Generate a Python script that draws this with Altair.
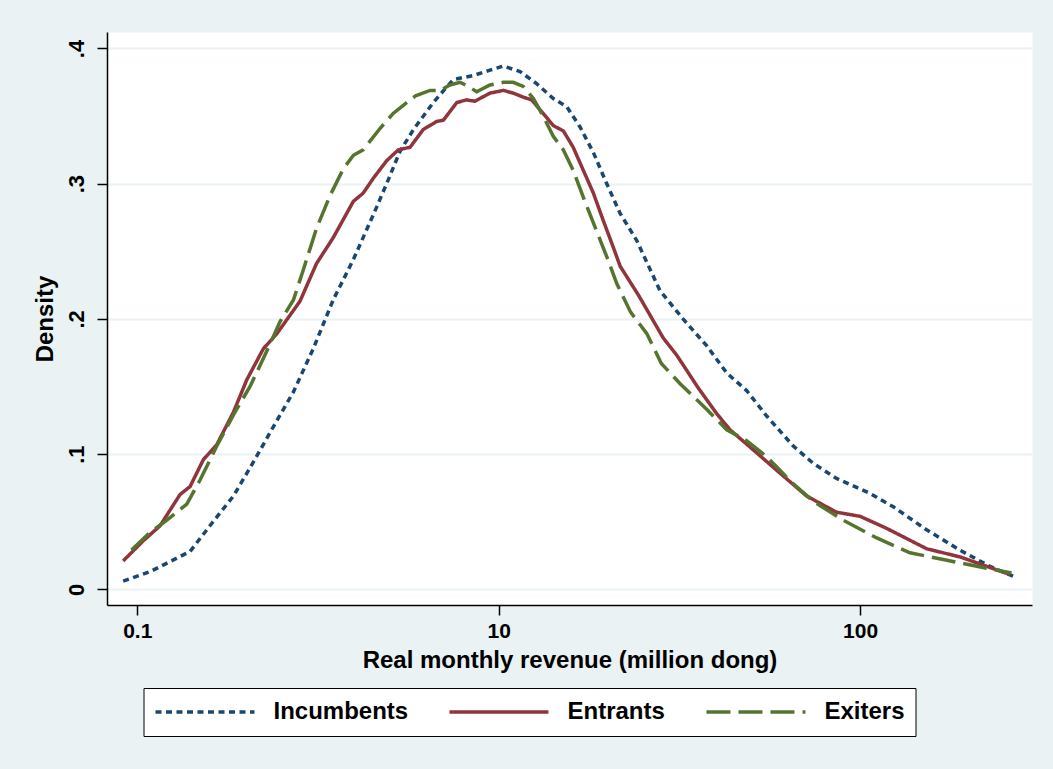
import altair as alt
import pandas as pd

# ---- data (x in axis-position units: 0 -> "0.1", 1 -> "10", 2 -> "100") ----
series_names = ["Incumbents", "Entrants", "Exiters"]

inc_x = [-0.039, 0.035, 0.146, 0.201, 0.266, 0.321, 0.376, 0.432, 0.487, 0.542, 0.598, 0.653,
         0.690, 0.727, 0.764, 0.819, 0.874, 0.930, 0.976, 1.013, 1.059, 1.105, 1.151, 1.188,
         1.225, 1.262, 1.299, 1.336, 1.382, 1.446, 1.510, 1.576, 1.631, 1.686, 1.742, 1.815,
         1.871, 1.935, 2.027, 2.092, 2.184, 2.276, 2.359, 2.429]
inc_y = [0.006, 0.013, 0.028, 0.047, 0.069, 0.094, 0.120, 0.146, 0.178, 0.214, 0.244, 0.277,
         0.300, 0.324, 0.340, 0.360, 0.377, 0.380, 0.384, 0.387, 0.383, 0.374, 0.363, 0.357,
         0.342, 0.323, 0.300, 0.278, 0.258, 0.221, 0.200, 0.180, 0.160, 0.147, 0.128, 0.106,
         0.093, 0.082, 0.071, 0.061, 0.044, 0.029, 0.017, 0.009]

ent_x = [-0.039, 0.017, 0.063, 0.118, 0.146, 0.183, 0.220, 0.266, 0.303, 0.349, 0.386, 0.450,
         0.496, 0.542, 0.598, 0.625, 0.653, 0.690, 0.722, 0.755, 0.791, 0.828, 0.847, 0.884,
         0.911, 0.934, 0.976, 1.013, 1.040, 1.068, 1.091, 1.123, 1.151, 1.179, 1.206, 1.234,
         1.262, 1.289, 1.317, 1.336, 1.388, 1.455, 1.493, 1.552, 1.603, 1.640, 1.705, 1.778,
         1.852, 1.935, 2.000, 2.074, 2.184, 2.276, 2.350, 2.415]
ent_y = [0.021, 0.036, 0.047, 0.070, 0.076, 0.096, 0.107, 0.131, 0.155, 0.178, 0.189, 0.213,
         0.241, 0.260, 0.287, 0.293, 0.304, 0.317, 0.325, 0.327, 0.340, 0.346, 0.347, 0.360,
         0.362, 0.361, 0.367, 0.369, 0.367, 0.364, 0.362, 0.352, 0.343, 0.339, 0.327, 0.310,
         0.293, 0.273, 0.253, 0.239, 0.217, 0.186, 0.173, 0.149, 0.130, 0.118, 0.103, 0.086,
         0.069, 0.057, 0.054, 0.045, 0.030, 0.024, 0.017, 0.011]

exi_x = [-0.016, 0.035, 0.081, 0.137, 0.174, 0.220, 0.266, 0.312, 0.358, 0.395, 0.432, 0.459,
         0.496, 0.533, 0.570, 0.598, 0.625, 0.672, 0.708, 0.736, 0.770, 0.810, 0.838, 0.865,
         0.893, 0.916, 0.939, 0.976, 1.013, 1.040, 1.068, 1.096, 1.123, 1.151, 1.179, 1.206,
         1.234, 1.262, 1.299, 1.327, 1.365, 1.410, 1.450, 1.502, 1.576, 1.631, 1.686, 1.742,
         1.815, 1.871, 1.954, 2.046, 2.138, 2.230, 2.323, 2.419]
exi_y = [0.029, 0.042, 0.051, 0.063, 0.081, 0.106, 0.129, 0.150, 0.176, 0.198, 0.214, 0.236,
         0.267, 0.291, 0.311, 0.321, 0.325, 0.341, 0.352, 0.358, 0.365, 0.369, 0.369, 0.373,
         0.375, 0.372, 0.368, 0.373, 0.375, 0.375, 0.372, 0.363, 0.350, 0.335, 0.325, 0.310,
         0.290, 0.271, 0.246, 0.226, 0.205, 0.189, 0.167, 0.152, 0.133, 0.118, 0.110, 0.098,
         0.078, 0.065, 0.051, 0.038, 0.027, 0.022, 0.017, 0.012]

x_tick_pos = [0, 1, 2]
x_tick_labels = ["0.1", "10", "100"]
y_tick_vals = [0, 0.1, 0.2, 0.3, 0.4]
y_tick_labels = ["0", ".1", ".2", ".3", ".4"]

series_colors = ["#1A476F", "#90353B", "#55752F"]
series_dashes = [[6, 4.5], [1, 0], [24, 8]]

# ---- table ----
rows = []
for name, xs, ys in zip(series_names, [inc_x, ent_x, exi_x], [inc_y, ent_y, exi_y]):
    for i, (a, b) in enumerate(zip(xs, ys)):
        rows.append({"series": name, "pos": a, "density": b, "idx": i})
df = pd.DataFrame(rows)


def label_expr(vals, labels):
    expr = "''"
    for v, l in reversed(list(zip(vals, labels))):
        expr = f"(abs(datum.value - {v}) < 1e-6) ? '{l}' : {expr}"
    return expr


FONT = "Liberation Sans, Arial, Helvetica, sans-serif"

legend = alt.Legend(
    title=None, orient="none", legendX=36.5, legendY=656, direction="horizontal",
    symbolType="stroke", symbolSize=9800, symbolStrokeWidth=3.5, clipHeight=28,
    labelFontSize=24, labelFont=FONT, labelFontWeight="bold", labelColor="black",
    labelOffset=17, columnPadding=39, padding=10, fillColor="white", strokeColor="black",
    cornerRadius=0,
)

chart = alt.Chart(df).mark_line(strokeWidth=3.5, clip=True).encode(
    x=alt.X("pos:Q",
            scale=alt.Scale(domain=[-0.0838, 2.4756], nice=False, zero=False),
            axis=alt.Axis(values=x_tick_pos, labelExpr=label_expr(x_tick_pos, x_tick_labels),
                          title="Real monthly revenue (million dong)", grid=False,
                          tickSize=10, tickWidth=1.5, tickColor="black",
                          domainColor="black", domainWidth=1.5,
                          labelFontSize=21, labelFont=FONT, labelFontWeight="bold",
                          labelColor="black", labelPadding=5,
                          titleFontSize=24, titleFont=FONT, titleFontWeight="bold",
                          titleColor="black", titlePadding=7)),
    y=alt.Y("density:Q",
            scale=alt.Scale(domain=[-0.0116, 0.4122], nice=False, zero=False),
            axis=alt.Axis(values=y_tick_vals, labelExpr=label_expr(y_tick_vals, y_tick_labels),
                          title="Density", grid=True, gridColor="#EAF2F3", gridWidth=2,
                          tickSize=10, tickWidth=1.5, tickColor="black",
                          domainColor="black", domainWidth=1.5,
                          labelAngle=270, labelAlign="center", labelBaseline="alphabetic",
                          labelFontSize=22, labelFont=FONT, labelFontWeight="bold",
                          labelColor="black", labelPadding=14,
                          titleFontSize=24, titleFont=FONT, titleFontWeight="bold",
                          titleColor="black", titlePadding=8)),
    color=alt.Color("series:N", scale=alt.Scale(domain=series_names, range=series_colors),
                    legend=legend),
    strokeDash=alt.StrokeDash("series:N", scale=alt.Scale(domain=series_names, range=series_dashes),
                              legend=legend),
    order="idx:Q",
).properties(
    width=925, height=573,
    autosize=alt.AutoSizeParams(type="none"),
    padding={"left": 107, "top": 32, "right": 21, "bottom": 164},
    background="#EAF2F3",
).configure_view(fill="white", stroke="transparent")

chart.save("out.html", embed_options={"renderer": "svg", "actions": False})
